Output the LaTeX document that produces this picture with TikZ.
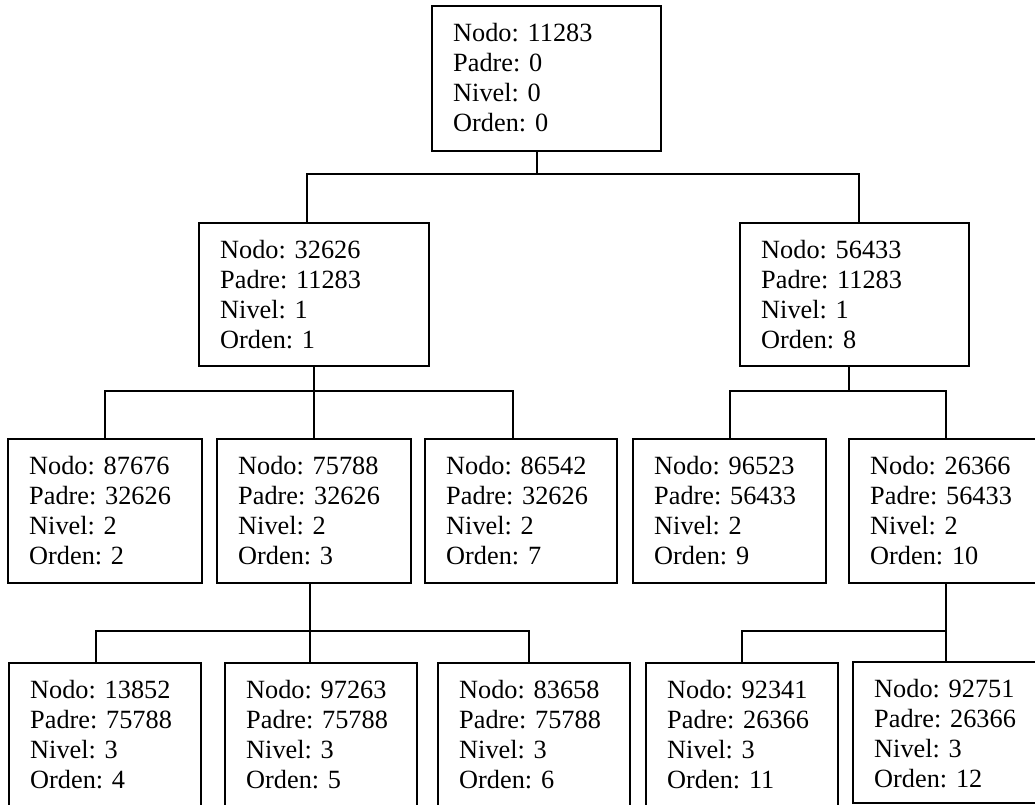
\documentclass[tikz,border=0pt]{standalone}
\usepackage{fontspec}
\setmainfont{Liberation Serif}

% One box of the tree: name, x, y (top-left), width, height, then the four fields
\newcommand\caja[9]{%
  \node[caja, minimum width=#4pt, minimum height=#5pt] (#1) at (#2,#3) {};
  \node[texto] (t#1) at ([shift={(21,17)}]#1.north west)
    {Nodo: #6\\Padre: #7\\Nivel: #8\\Orden: #9};%
}

\begin{document}
\begin{tikzpicture}[x=1pt,y=-1pt,
  caja/.style={draw, line width=2pt, anchor=north west, inner sep=0pt, outer sep=0pt},
  texto/.style={anchor=north west, inner sep=0pt, align=left,
                font=\fontsize{26.3}{30}\selectfont},
  enlace/.style={line width=2pt}]

\useasboundingbox (0,0) rectangle (1035,805);
\clip (0,0) rectangle (1035,805);

% level 0
\caja{n11283}{432}{6}{229}{145}{11283}{0}{0}{0}
% level 1
\caja{n32626}{199}{223}{230}{143}{32626}{11283}{1}{1}
\caja{n56433}{740}{223}{229}{143}{56433}{11283}{1}{8}
% level 2
\caja{n87676}{8}{439}{194}{144}{87676}{32626}{2}{2}
\caja{n75788}{217}{439}{194}{144}{75788}{32626}{2}{3}
\caja{n86542}{425}{439}{192}{144}{86542}{32626}{2}{7}
\caja{n96523}{633}{439}{193}{144}{96523}{56433}{2}{9}
\caja{n26366}{849}{439}{193}{144}{26366}{56433}{2}{10}
% level 3
\caja{n13852}{9}{663}{192}{160}{13852}{75788}{3}{4}
\caja{n97263}{225}{663}{192}{160}{97263}{75788}{3}{5}
\caja{n83658}{438}{663}{192}{160}{83658}{75788}{3}{6}
\caja{n92341}{646}{663}{192}{160}{92341}{26366}{3}{11}
\caja{n92751}{853}{662}{193}{141}{92751}{26366}{3}{12}

% connectors: root -> level 1
\coordinate (j0) at (537,174);
\draw[enlace] (j0 |- n11283.south) -- (j0);
\draw[enlace] ([xshift=-7pt]n32626.north) |- (j0) -| ([xshift=4.5pt]n56433.north);

% 32626 -> children
\coordinate (j1) at (314,391);
\draw[enlace] (n32626.south) -- (j1) -- (n75788.north);
\draw[enlace] (n87676.north) |- (j1) -| ([xshift=-8pt]n86542.north);

% 56433 -> children
\coordinate (j2) at (849,391);
\draw[enlace] (j2 |- n56433.south) -- (j2);
\draw[enlace] (n96523.north) |- (j2) -| (n26366.north);

% 75788 -> children
\coordinate (j3) at (310,631);
\draw[enlace] (j3 |- n75788.south) -- (j3) -- (j3 |- n97263.north);
\draw[enlace] ([xshift=-9pt]n13852.north) |- (j3) -| ([xshift=-5pt]n83658.north);

% 26366 -> children
\coordinate (j4) at (946,631);
\draw[enlace] (j4 |- n26366.south) -- (j4) -- (j4 |- n92751.north);
\draw[enlace] (n92341.north) |- (j4);
\end{tikzpicture}
\end{document}
